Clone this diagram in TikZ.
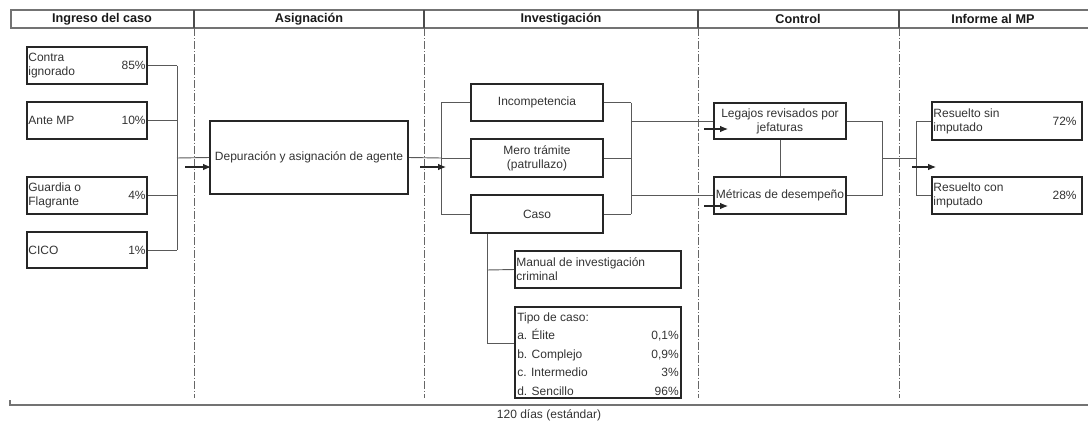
\documentclass[tikz,border=0pt]{standalone}
\usepackage{fontspec}
\setmainfont{Liberation Sans}
\usetikzlibrary{arrows.meta,fit}
\begin{document}
\begin{tikzpicture}[x=0.75pt,y=-0.75pt,
  box/.style={draw=black!85, line width=1.3pt, inner sep=0pt},
  txt/.style={font=\fontsize{9}{10.5}\selectfont, text=black!80, inner sep=1.5pt, align=left},
  ctxt/.style={txt, align=center},
  hdr/.style={font=\bfseries\fontsize{9.5}{11}\selectfont, text=black!90, inner sep=0pt},
  conn/.style={draw=black!65, line width=0.7pt},
  flow/.style={draw=black!85, line width=0.8pt, -{Latex[length=6pt,width=5pt]}},
  divider/.style={draw=black!60, line width=0.6pt, dash pattern=on 6pt off 1.5pt on 0.8pt off 1.5pt},
  frame/.style={draw=black!55, line width=1.3pt}
]
\useasboundingbox (0,0) rectangle (1088,421);

% header
\draw[frame] (1088,10) -- (11,10) -- (11,28) -- (1088,28);
\foreach \xx/\nm in {194/d1,424/d2,698/d3,899/d4}{
  \coordinate (\nm t) at (\xx,10);
  \coordinate (\nm m) at (\xx,28);
  \coordinate (\nm b) at (\xx,398);
  \draw[draw=black!70, line width=0.8pt] (\nm t) -- (\nm m);
  \draw[divider] (\nm m) -- (\nm b);
}
\node[hdr] (h1) at (102,19) {Ingreso del caso};
\node[hdr] (h2) at (309,19) {Asignación};
\node[hdr] (h3) at (561,19) {Investigación};
\node[hdr] (h4) at (798,19) {Control};
\node[hdr] (h5) at (993,19) {Informe al MP};

% Ingreso boxes
\node[box, fit={(27,47) (147,84)}] (contra) {};
\node[txt, anchor=west] (contraT) at (contra.west) {Contra\\ignorado};
\node[txt, anchor=east] (contraP) at (contra.east) {85\%};
\node[box, fit={(27,102) (147,139)}] (ante) {};
\node[txt, anchor=west] (anteT) at (ante.west) {Ante MP};
\node[txt, anchor=east] (anteP) at (ante.east) {10\%};
\node[box, fit={(27,177) (147,214)}] (guardia) {};
\node[txt, anchor=west] (guardiaT) at (guardia.west) {Guardia o\\Flagrante};
\node[txt, anchor=east] (guardiaP) at (guardia.east) {4\%};
\node[box, fit={(27,232) (147,268)}] (cico) {};
\node[txt, anchor=west] (cicoT) at (cico.west) {CICO};
\node[txt, anchor=east] (cicoP) at (cico.east) {1\%};

% Asignacion
\node[box, fit={(210,121) (408,194)}] (depur) {};
\node[ctxt] (depurT) at (depur.center) {Depuración y asignación de agente};

% Investigacion
\node[box, fit={(471,84) (603,121)}] (incomp) {};
\node[ctxt] (incompT) at (incomp.center) {Incompetencia};
\node[box, fit={(471,139) (603,177)}] (mero) {};
\node[ctxt] (meroT) at (mero.center) {Mero trámite\\(patrullazo)};
\node[box, fit={(471,195) (603,233)}] (caso) {};
\node[ctxt] (casoT) at (caso.center) {Caso};
\node[box, fit={(515,251) (681,288)}] (manual) {};
\node[txt, anchor=west] (manualT) at (manual.west) {Manual de investigación\\criminal};
\node[box, fit={(515,307) (681,398)}] (tipo) {};
\node[txt, anchor=base west] (tipo0) at (515,321) {Tipo de caso:};
\node[txt, anchor=base west] (tipo1) at (515,339.5) {a. Élite};
\node[txt, anchor=base west] (tipo2) at (515,358) {b. Complejo};
\node[txt, anchor=base west] (tipo3) at (515,376.5) {c. Intermedio};
\node[txt, anchor=base west] (tipo4) at (515,395) {d. Sencillo};
\node[txt, anchor=base east] (tipo1P) at (681,339.5) {0,1\%};
\node[txt, anchor=base east] (tipo2P) at (681,358) {0,9\%};
\node[txt, anchor=base east] (tipo3P) at (681,376.5) {3\%};
\node[txt, anchor=base east] (tipo4P) at (681,395) {96\%};

% Control
\node[box, fit={(714,103) (846,139)}] (legajos) {};
\node[ctxt] (legajosT) at (legajos.center) {Legajos revisados por\\jefaturas};
\node[box, fit={(714,177) (846,214)}] (metricas) {};
\node[ctxt, inner sep=0pt] (metricasT) at (metricas.center) {Métricas de desempeño};

% Informe
\node[box, fit={(932,102) (1082,140)}] (sin) {};
\node[txt, anchor=west] (sinT) at (sin.west) {Resuelto sin\\imputado};
\node[txt, anchor=east] (sinP) at ([xshift=-3pt]sin.east) {72\%};
\node[box, fit={(932,177) (1082,214)}] (con) {};
\node[txt, anchor=west] (conT) at (con.west) {Resuelto con\\imputado};
\node[txt, anchor=east] (conP) at ([xshift=-3pt]con.east) {28\%};

% bus coordinates
\coordinate (busA) at (177,158);
\coordinate (busB) at (441,158);
\coordinate (busC) at (631,158);
\coordinate (busD) at (882,158);
\coordinate (busE) at (916,158);
\coordinate (busF) at (487,270);

% connectors: ingreso -> asignacion
\draw[conn] (contra.east) -- (contra.east -| busA);
\draw[conn] (ante.east) -- (ante.east -| busA);
\draw[conn] (guardia.east) -- (guardia.east -| busA);
\draw[conn] (cico.east) -- (cico.east -| busA);
\draw[conn] (contra.east -| busA) -- (cico.east -| busA);
\draw[conn] (busA) -- (depur.west);

% asignacion -> investigacion
\draw[conn] (depur.east) -- (busB);
\draw[conn] (incomp.west -| busB) -- (caso.west -| busB);
\draw[conn] (incomp.west -| busB) -- (incomp.west);
\draw[conn] (mero.west -| busB) -- (mero.west);
\draw[conn] (caso.west -| busB) -- (caso.west);

% investigacion -> control
\draw[conn] (incomp.east) -- (incomp.east -| busC);
\draw[conn] (mero.east) -- (mero.east -| busC);
\draw[conn] (caso.east) -- (caso.east -| busC);
\draw[conn] (incomp.east -| busC) -- (caso.east -| busC);
\draw[conn] (legajos.west -| busC) -- (legajos.west);
\draw[conn] (metricas.west -| busC) -- (metricas.west);

% caso branch
\coordinate (busG) at (487,343);
\draw[conn] (caso.south -| busF) -- (busG) -- (busG -| tipo.west);
\draw[conn] (busF) -- (manual.west);

% control
\draw[conn] (legajos.south) -- (metricas.north);
\draw[conn] (legajos.east) -- (legajos.east -| busD);
\draw[conn] (metricas.east) -- (metricas.east -| busD);
\draw[conn] (legajos.east -| busD) -- (metricas.east -| busD);
\draw[conn] (busD) -- (busE);
\draw[conn] (sin.west -| busE) -- (con.west -| busE);
\draw[conn] (sin.west -| busE) -- (sin.west);
\draw[conn] (con.west -| busE) -- (con.west);

% flow direction arrows
\coordinate (f1s) at (185,167); \coordinate (f1e) at (211,167);
\coordinate (f2s) at (420,167); \coordinate (f2e) at (446,167);
\coordinate (f3s) at (704,129); \coordinate (f3e) at (728,129);
\coordinate (f4s) at (704,206); \coordinate (f4e) at (728,206);
\coordinate (f5s) at (912,167); \coordinate (f5e) at (936,167);
\draw[flow] (f1s) -- (f1e);
\draw[flow] (f2s) -- (f2e);
\draw[flow] (f3s) -- (f3e);
\draw[flow] (f4s) -- (f4e);
\draw[flow] (f5s) -- (f5e);

% bottom timeline
\coordinate (tl0) at (10,400);
\coordinate (tl1) at (10,405);
\coordinate (tl2) at (1088,405);
\draw[frame] (tl0) -- (tl1) -- (tl2);
\node[txt] (dias) at (549,415) {120 días (estándar)};
\end{tikzpicture}
\end{document}
